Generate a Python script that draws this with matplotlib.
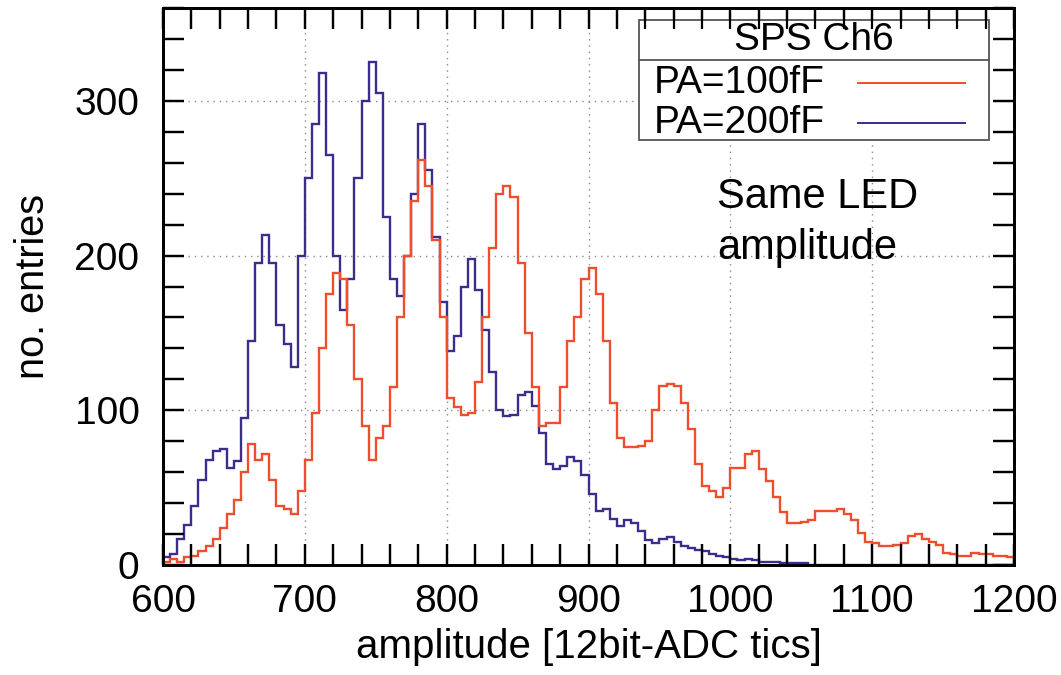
import numpy as np
import matplotlib
matplotlib.use("Agg")
import matplotlib.pyplot as plt
from matplotlib.patches import Rectangle
from matplotlib.lines import Line2D
from matplotlib.ticker import MultipleLocator

plt.rcParams["font.family"] = ["Liberation Sans", "DejaVu Sans"]

# histogram binning (ADC tics)
bin_edges = np.arange(600, 1201, 5)

# PA=100fF counts per bin, one row per 100 tics
pa100 = [
    2, 4, 2, 5, 6, 9, 12, 17, 24, 33, 42, 60, 78, 68, 72, 55, 38, 36, 33, 48,
    68, 98, 140, 175, 189, 185, 155, 120, 90, 68, 82, 90, 115, 160, 200, 235, 262, 245, 210, 160,
    108, 102, 97, 98, 118, 160, 205, 240, 245, 238, 195, 150, 115, 90, 92, 92, 115, 145, 160, 185,
    192, 175, 145, 105, 82, 76, 76, 77, 80, 100, 116, 117, 116, 105, 88, 65, 51, 48, 44, 50,
    63, 63, 72, 74, 62, 54, 44, 34, 27, 27, 28, 29, 35, 35, 35, 36, 33, 29, 21, 15,
    14, 12, 12, 13, 14, 19, 20, 17, 15, 13, 8, 7, 6, 6, 8, 7, 7, 6, 6, 5,
]

# PA=200fF counts per bin
pa200 = [
    5, 7, 17, 26, 38, 55, 68, 74, 75, 63, 67, 95, 145, 195, 213, 195, 155, 143, 128, 200,
    250, 285, 318, 265, 200, 165, 185, 250, 300, 325, 305, 225, 185, 174, 200, 240, 285, 255, 212, 170,
    138, 148, 180, 198, 178, 152, 125, 100, 96, 97, 110, 112, 103, 85, 65, 62, 64, 70, 67, 58,
    46, 35, 36, 30, 25, 29, 27, 22, 16, 14, 17, 18, 15, 12, 11, 10, 9, 7, 6, 5,
    4, 3, 4, 3, 2, 2, 2, 1, 1, 1, 1, 0, 0, 0, 0, 0, 0, 0, 0, 0,
    0, 0, 0, 0, 0, 0, 0, 0, 0, 0, 0, 0, 0, 0, 0, 0, 0, 0, 0, 0,
]

labels = ["PA=100fF", "PA=200fF"]
red = "#ee4e2b"
blue = "#3a2d8c"

fig = plt.figure(figsize=(10.61, 6.75), dpi=100)
rect = [163/1061, 1 - 565/675, (1014-163)/1061, (565-8)/675]
ax = fig.add_axes(rect)

ax.stairs(pa200, bin_edges, color=blue, lw=1.7, zorder=2)
ax.stairs(pa100, bin_edges, color=red, lw=1.7, zorder=2.1)

ax.set_xlim(600, 1200)
ax.set_ylim(0, 360)

def style_axes(a, labels_on=True):
    a.xaxis.set_major_locator(MultipleLocator(100))
    a.xaxis.set_minor_locator(MultipleLocator(20))
    a.yaxis.set_major_locator(MultipleLocator(100))
    a.yaxis.set_minor_locator(MultipleLocator(20))
    a.tick_params(which="both", direction="in", length=15, width=1.6,
                  top=True, right=True, color="black")
    a.tick_params(axis="x", pad=14, labelsize=28, labelbottom=labels_on)
    a.tick_params(axis="y", pad=17, labelsize=28, labelleft=labels_on)
    for s in a.spines.values():
        s.set_linewidth(2.0)

style_axes(ax)
ax.set_axisbelow(True)
ax.grid(True, which="major", color="#8a8a8a", lw=1.0, ls=(0, (1, 3.5)))

ax.set_xlabel("amplitude [12bit-ADC tics]", fontsize=29, va="top")
ax.xaxis.set_label_coords(0.5, -0.113)
ax.set_ylabel("no. entries", fontsize=28.5)
ax.yaxis.set_label_coords(-0.131, 0.5)

# legend box (drawn by hand to get the ROOT look with a title row)
box = Rectangle((0.5593, 0.763), 0.9706 - 0.5593, 0.9785 - 0.763,
                transform=ax.transAxes, facecolor="white", edgecolor="#555555",
                lw=1.3, zorder=3)
ax.add_patch(box)
ax.add_line(Line2D([0.5593, 0.9706], [0.9066, 0.9066], transform=ax.transAxes,
                   color="#555555", lw=1.3, zorder=3.1))
ax.text(0.765, 0.943, "SPS Ch6", transform=ax.transAxes, fontsize=28,
        ha="center", va="center", zorder=3.2)
for lab, col, yy in zip(labels, [red, blue], [0.866, 0.794]):
    ax.text(0.577, yy, lab, transform=ax.transAxes, fontsize=28,
            ha="left", va="center", zorder=3.2)
    ax.add_line(Line2D([0.8167, 0.9424], [yy, yy], transform=ax.transAxes,
                       color=col, lw=1.4, zorder=3.2))

ax.text(0.651, 0.641, "Same LED", transform=ax.transAxes, fontsize=30,
        ha="left", va="baseline")
ax.text(0.651, 0.549, "amplitude", transform=ax.transAxes, fontsize=30,
        ha="left", va="baseline")

# overlay axes so tick marks stay visible on top of the legend box
ax2 = fig.add_axes(rect, sharex=ax, sharey=ax)
ax2.patch.set_visible(False)
style_axes(ax2, labels_on=False)
ax2.set_zorder(ax.get_zorder() + 1)

fig.savefig("out.png", dpi=100)
